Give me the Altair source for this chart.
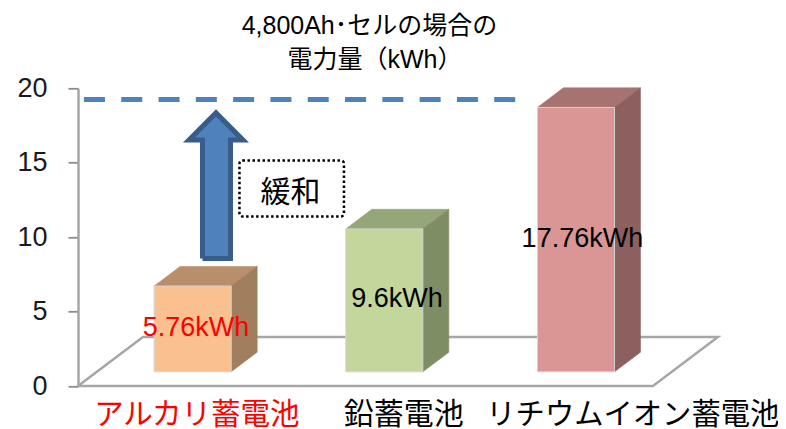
import altair as alt
import pandas as pd

CJK = "Noto Sans CJK JP"
LATIN = "Liberation Sans"
MIXED = "Liberation Sans, 'Noto Sans CJK JP'"

title_lines = ["4,800Ah･セルの場合の", "電力量（kWh）"]
title_x = [1.5208, 1.5496]
title_y = [24.19, 21.9]
categories = ["アルカリ蓄電池", "鉛蓄電池", "リチウムイオン蓄電池"]
values = [5.76, 9.6, 17.76]
value_labels = ["5.76kWh", "9.6kWh", "17.76kWh"]
label_colors = ["#ff0000", "#000000", "#000000"]
cat_colors = ["#ff0000", "#000000", "#000000"]
cat_sizes = [29.5, 30, 29.3]
front_colors = ["#fac090", "#c3d69b", "#d99694"]
top_colors = ["#b98e6b", "#95a679", "#a77372"]
side_colors = ["#a17e5d", "#7f8d64", "#8c605e"]
y_ticks = [0, 5, 10, 15, 20]

# oblique projection of the 3-D chart, in category units and axis units
shift_x = 0.339
shift_y = 3.29
near, far = 0.29, 0.69
bar_width = 0.402
slots = 3

label_x = [0.6156, 1.664, 2.632]
label_y = [3.87, 5.84, 9.88]
cat_x = [0.62, 1.70, 2.895]
cat_y = -1.95

target = 19.24
target_x = [0.031, 2.30]
arrow_x = [0.6496, 0.6496, 0.579, 0.72, 0.861, 0.7957, 0.7957, 0.6496]
arrow_y = [8.57, 16.53, 16.53, 18.35, 16.53, 16.53, 8.57, 8.57]
box_x = [0.8426, 1.3878]
box_y = [11.39, 15.15]
box_text = "緩和"
box_text_pos = [1.1087, 12.98]


def proj(c, v, d):
    return c + d * shift_x, v + d * shift_y


def polygon(corners, face, color):
    rows = []
    for i, (c, v, d) in enumerate(corners + corners[:1]):
        px, py = proj(c, v, d)
        rows.append({"x": px, "y": py, "i": i, "face": face, "color": color})
    return rows


floor_rows = polygon([(0, 0, 0), (slots, 0, 0), (slots, 0, 1), (0, 0, 1)], "floor", "#ffffff")

front_rows, face_rows = [], []
for k, v in enumerate(values):
    left = k + (1 - bar_width) / 2
    right = left + bar_width
    x0, y0 = proj(left, 0, near)
    x1, y1 = proj(right, v, near)
    front_rows.append({"x": x0, "x2": x1, "y": y0, "y2": y1, "color": front_colors[k]})
    face_rows += polygon([(left, v, near), (right, v, near), (right, v, far), (left, v, far)], f"top{k}", top_colors[k])
    face_rows += polygon([(right, 0, near), (right, 0, far), (right, v, far), (right, v, near)], f"side{k}", side_colors[k])

xs = alt.Scale(domain=[0, 3.35], nice=False, zero=False)
ys = alt.Scale(domain=[0, 20], nice=False, zero=False)
y_axis = alt.Axis(
    values=y_ticks, grid=False, domainColor="#a6a6a6", domainWidth=2.5,
    tickColor="#8c8c8c", tickWidth=1.8, tickSize=10, labelFont=LATIN, labelFontSize=27,
    labelColor="#1a1a1a", labelPadding=21, title=None,
)
X = lambda f="x": alt.X(f"{f}:Q", scale=xs, axis=None)
Y = lambda f="y": alt.Y(f"{f}:Q", scale=ys, axis=y_axis)

floor = alt.Chart(pd.DataFrame(floor_rows)).mark_line(
    fill="#ffffff", stroke="#a6a6a6", strokeWidth=2.5, strokeJoin="miter", clip=False
).encode(x=X(), y=Y(), order="i:Q")

faces = alt.Chart(pd.DataFrame(face_rows)).mark_line(strokeWidth=0.6, strokeJoin="miter").encode(
    x=X(), y=Y(), order="i:Q", detail="face:N",
    fill=alt.Fill("color:N", scale=None),
    stroke=alt.Stroke("color:N", scale=None),
)

fronts = alt.Chart(pd.DataFrame(front_rows)).mark_rect(stroke="#d4d4d4", strokeWidth=1).encode(
    x=X(), x2="x2:Q", y=Y(), y2="y2:Q", fill=alt.Fill("color:N", scale=None)
)

rule_df = pd.DataFrame({"x": [target_x[0]], "x2": [target_x[1]], "y": [target]})
dashed = alt.Chart(rule_df).mark_rule(color="#4f81bd", strokeWidth=5, strokeDash=[21, 16.3]).encode(
    x=X(), x2="x2:Q", y=Y()
)

arrow = alt.Chart(pd.DataFrame({"x": arrow_x, "y": arrow_y, "i": range(len(arrow_x))})).mark_line(
    fill="#4f81bd", stroke="#385d8a", strokeWidth=5, strokeJoin="miter", strokeMiterLimit=10
).encode(x=X(), y=Y(), order="i:Q")

box_df = pd.DataFrame({"x": [box_x[0]], "x2": [box_x[1]], "y": [box_y[0]], "y2": [box_y[1]]})
box = alt.Chart(box_df).mark_rect(
    fill="#ffffff", stroke="#000000", strokeWidth=2.5, strokeDash=[2.5, 2.5], cornerRadius=3
).encode(x=X(), x2="x2:Q", y=Y(), y2="y2:Q")

box_label = alt.Chart(pd.DataFrame({"x": [box_text_pos[0]], "y": [box_text_pos[1]], "t": [box_text]})).mark_text(
    font=CJK, fontSize=30, color="#000000", align="center", baseline="middle"
).encode(x=X(), y=Y(), text="t:N")

labels_df = pd.DataFrame({"x": label_x, "y": label_y, "t": value_labels, "color": label_colors})
labels = alt.Chart(labels_df).mark_text(
    font=LATIN, fontSize=27, align="center", baseline="middle"
).encode(x=X(), y=Y(), text="t:N", color=alt.Color("color:N", scale=None))

cats_df = pd.DataFrame({"x": cat_x, "y": [cat_y] * 3, "t": categories, "color": cat_colors, "s": cat_sizes})
cats = alt.Chart(cats_df).mark_text(
    font=MIXED, align="center", baseline="middle"
).encode(
    x=X(), y=Y(), text="t:N",
    color=alt.Color("color:N", scale=None),
    size=alt.Size("s:Q", scale=None),
)

title_df = pd.DataFrame({"x": title_x, "y": title_y, "t": title_lines})
title = alt.Chart(title_df).mark_text(
    font=MIXED, fontSize=25, color="#000000", align="center", baseline="middle"
).encode(x=X(), y=Y(), text="t:N")

chart = alt.layer(floor, faces, fronts, dashed, arrow, box, box_label, labels, cats, title).properties(
    width=642,
    height=297.7,
    padding={"left": 70, "top": 80.3, "right": 58, "bottom": 43},
    autosize=alt.AutoSizeParams(type="none"),
).configure_view(stroke=None)

chart.save("out.html", embed_options={"renderer": "svg", "actions": False})
